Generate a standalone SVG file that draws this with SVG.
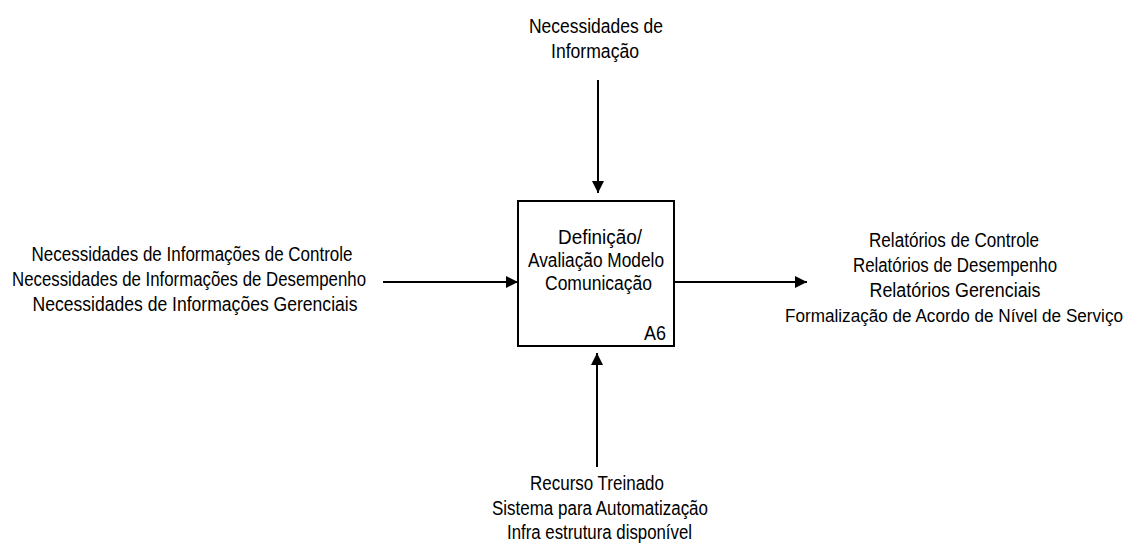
<svg xmlns="http://www.w3.org/2000/svg" width="1129" height="544" viewBox="0 0 1129 544">
  <style>
    text { font-family: "Liberation Sans", Arial, sans-serif; font-size: 19.5px; fill: #000; text-anchor: middle; }
    .long { font-size: 17.5px; }
    .box { fill: #fff; stroke: #000; stroke-width: 2; }
    .conn { stroke: #000; stroke-width: 2; fill: none; marker-end: url(#arrow); }
  </style>
  <defs>
    <marker id="arrow" markerWidth="12" markerHeight="12" refX="12" refY="6" orient="auto" markerUnits="userSpaceOnUse">
      <path d="M0,0 L12,6 L0,12 Z" fill="#000"/>
    </marker>
  </defs>
  <rect width="1129" height="544" fill="#fff"/>

  <!-- connectors -->
  <g id="connectors">
    <line class="conn" x1="598" y1="80" x2="598" y2="193"/>
    <line class="conn" x1="383" y1="282" x2="518" y2="282"/>
    <line class="conn" x1="675" y1="282" x2="807" y2="282"/>
    <line class="conn" x1="597" y1="467" x2="597" y2="353"/>
  </g>

  <!-- activity box A6 -->
  <g id="node-a6">
    <rect class="box" x="518" y="201" width="156" height="145"/>
    <text x="600" y="244" textLength="84" lengthAdjust="spacingAndGlyphs">Definição/</text>
    <text x="596" y="267" textLength="136" lengthAdjust="spacingAndGlyphs">Avaliação Modelo</text>
    <text x="598.5" y="290" textLength="107" lengthAdjust="spacingAndGlyphs">Comunicação</text>
    <text x="655" y="340" textLength="22" lengthAdjust="spacingAndGlyphs">A6</text>
  </g>

  <!-- control (top) -->
  <g id="control">
    <text x="596" y="33" textLength="134" lengthAdjust="spacingAndGlyphs">Necessidades de</text>
    <text x="595" y="58" textLength="88" lengthAdjust="spacingAndGlyphs">Informação</text>
  </g>

  <!-- inputs (left) -->
  <g id="inputs">
    <text x="192" y="261" textLength="321" lengthAdjust="spacingAndGlyphs">Necessidades de Informações de Controle</text>
    <text x="189" y="286" textLength="354" lengthAdjust="spacingAndGlyphs">Necessidades de Informações de Desempenho</text>
    <text x="195" y="311" textLength="325" lengthAdjust="spacingAndGlyphs">Necessidades de Informações Gerenciais</text>
  </g>

  <!-- outputs (right) -->
  <g id="outputs">
    <text x="954" y="247" textLength="170" lengthAdjust="spacingAndGlyphs">Relatórios de Controle</text>
    <text x="955" y="272" textLength="204" lengthAdjust="spacingAndGlyphs">Relatórios de Desempenho</text>
    <text x="955" y="297" textLength="171" lengthAdjust="spacingAndGlyphs">Relatórios Gerenciais</text>
    <text class="long" x="954" y="322" textLength="338" lengthAdjust="spacingAndGlyphs">Formalização de Acordo de Nível de Serviço</text>
  </g>

  <!-- mechanisms (bottom) -->
  <g id="mechanisms">
    <text x="597" y="490" textLength="134" lengthAdjust="spacingAndGlyphs">Recurso Treinado</text>
    <text x="600" y="515" textLength="216" lengthAdjust="spacingAndGlyphs">Sistema para Automatização</text>
    <text x="599.5" y="539" textLength="185" lengthAdjust="spacingAndGlyphs">Infra estrutura disponível</text>
  </g>
</svg>
